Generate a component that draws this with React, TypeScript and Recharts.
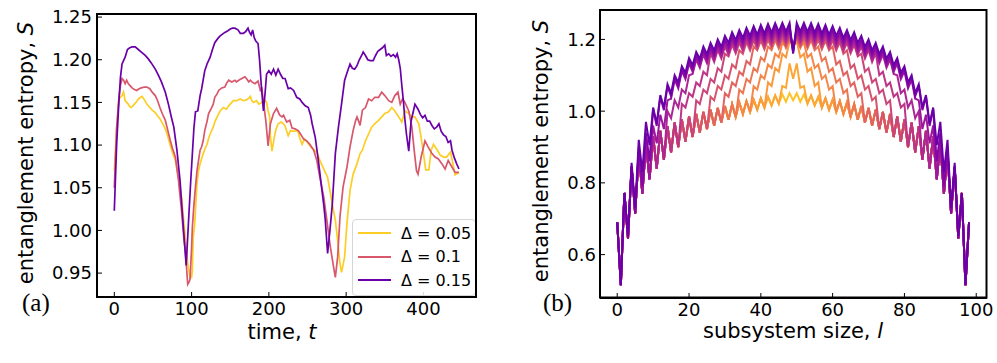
import React from 'react';
import { LineChart, Line, XAxis, YAxis, Legend } from 'recharts';

const FONT = '"DejaVu Sans", sans-serif';

// (a) entanglement entropy S against time t, one list of [t, S] per Delta
const delta005: [number, number][] = [
  [0, 1.07], [3, 1.12], [6, 1.154], [8, 1.156], [10, 1.158], [12, 1.162], [14, 1.152], [16, 1.15], [18, 1.148],
  [20, 1.145], [22, 1.144], [24, 1.146], [26, 1.148], [29, 1.151], [31, 1.154], [34, 1.156], [36, 1.157], [39, 1.153],
  [42, 1.148], [46, 1.144], [49, 1.141], [53, 1.138], [56, 1.134], [59, 1.131], [62, 1.126], [66, 1.119], [69, 1.111],
  [72, 1.101], [75, 1.092], [79, 1.082], [83, 1.062], [87, 1.039], [91, 1.0], [93, 0.98], [95, 0.961], [98, 0.945],
  [100, 0.945], [101, 0.953], [102, 0.99], [104, 1.008], [107, 1.055], [109, 1.07], [111, 1.078], [115, 1.09],
  [117, 1.095], [120, 1.101], [122, 1.108], [124, 1.113], [128, 1.121], [130, 1.127], [133, 1.133], [137, 1.14],
  [141, 1.144], [145, 1.142], [148, 1.146], [150, 1.148], [154, 1.152], [158, 1.152], [163, 1.154], [167, 1.152],
  [171, 1.153], [174, 1.155], [176, 1.157], [178, 1.152], [180, 1.15], [184, 1.152], [187, 1.148], [191, 1.15],
  [194, 1.154], [197, 1.15], [199, 1.14], [201, 1.133], [202, 1.11], [204, 1.093], [207, 1.109], [209, 1.118],
  [212, 1.125], [216, 1.127], [219, 1.125], [221, 1.122], [225, 1.111], [228, 1.117], [232, 1.116], [236, 1.117],
  [238, 1.115], [240, 1.108], [243, 1.101], [246, 1.107], [250, 1.103], [255, 1.097], [259, 1.094], [263, 1.09],
  [266, 1.082], [268, 1.078], [272, 1.07], [276, 1.062], [279, 1.047], [282, 1.031], [286, 1.012], [289, 0.988],
  [292, 0.961], [294, 0.951], [296, 0.96], [298, 0.969], [301, 1.008], [305, 1.047], [309, 1.066], [314, 1.078],
  [318, 1.09], [321, 1.094], [325, 1.105], [329, 1.113], [333, 1.121], [337, 1.125], [342, 1.129], [346, 1.133],
  [350, 1.137], [355, 1.139], [359, 1.144], [363, 1.14], [368, 1.133], [372, 1.127], [376, 1.14], [381, 1.137],
  [385, 1.133], [389, 1.133], [394, 1.125], [397, 1.109], [400, 1.09], [403, 1.071], [407, 1.071], [410, 1.094],
  [413, 1.101], [418, 1.094], [422, 1.088], [426, 1.086], [430, 1.086], [435, 1.092], [439, 1.074], [441, 1.065],
  [446, 1.068],
];

const delta01: [number, number][] = [
  [0, 1.05], [3, 1.12], [6, 1.156], [8, 1.17], [10, 1.178], [12, 1.176], [14, 1.172], [16, 1.176], [18, 1.172],
  [20, 1.17], [23, 1.167], [26, 1.165], [29, 1.164], [32, 1.166], [35, 1.167], [39, 1.168], [42, 1.168], [46, 1.166],
  [49, 1.162], [53, 1.158], [56, 1.152], [59, 1.144], [62, 1.137], [66, 1.129], [69, 1.118], [72, 1.107], [75, 1.097],
  [79, 1.086], [83, 1.059], [87, 1.023], [90, 0.99], [92, 0.975], [95, 0.937], [97, 0.94], [98, 0.943], [100, 0.98],
  [101, 1.004], [103, 1.03], [105, 1.051], [107, 1.07], [109, 1.082], [111, 1.094], [113, 1.098], [115, 1.105],
  [117, 1.117], [120, 1.128], [122, 1.137], [126, 1.144], [128, 1.148], [130, 1.156], [133, 1.16], [135, 1.164],
  [139, 1.167], [143, 1.168], [145, 1.172], [148, 1.176], [152, 1.174], [156, 1.176], [158, 1.174], [161, 1.176],
  [165, 1.178], [169, 1.18], [171, 1.178], [174, 1.174], [176, 1.176], [178, 1.174], [182, 1.172], [186, 1.175],
  [189, 1.164], [191, 1.166], [193, 1.15], [196, 1.129], [199, 1.099], [202, 1.125], [206, 1.137], [210, 1.143],
  [214, 1.135], [217, 1.133], [219, 1.135], [223, 1.127], [227, 1.129], [230, 1.12], [234, 1.119], [238, 1.117],
  [241, 1.113], [245, 1.107], [249, 1.105], [253, 1.101], [258, 1.094], [262, 1.082], [266, 1.062], [271, 1.039],
  [275, 1.012], [279, 0.984], [283, 0.961], [286, 0.945], [289, 0.969], [292, 1.016], [296, 1.051], [301, 1.074],
  [305, 1.098], [309, 1.117], [312, 1.128], [314, 1.133], [317, 1.126], [318, 1.123], [321, 1.141], [325, 1.144],
  [329, 1.154], [333, 1.152], [337, 1.156], [342, 1.156], [346, 1.162], [350, 1.158], [355, 1.152], [359, 1.15],
  [363, 1.158], [367, 1.162], [370, 1.148], [373, 1.154], [376, 1.15], [381, 1.14], [385, 1.121], [388, 1.094],
  [391, 1.07], [393, 1.066], [397, 1.086], [402, 1.105], [406, 1.098], [411, 1.09], [415, 1.086], [419, 1.084],
  [424, 1.078], [428, 1.072], [432, 1.082], [437, 1.074], [441, 1.068], [446, 1.068],
];

const delta015: [number, number][] = [
  [0, 1.023], [3, 1.1], [6, 1.152], [8, 1.18], [10, 1.195], [14, 1.203], [17, 1.212], [20, 1.214], [23, 1.215],
  [27, 1.215], [31, 1.212], [35, 1.209], [40, 1.205], [44, 1.201], [48, 1.196], [53, 1.189], [57, 1.182], [61, 1.174],
  [66, 1.162], [70, 1.148], [74, 1.132], [77, 1.121], [81, 1.094], [85, 1.059], [89, 1.008], [93, 0.959], [96, 1.01],
  [99, 1.06], [101, 1.09], [103, 1.12], [105, 1.139], [108, 1.14], [111, 1.158], [113, 1.166], [117, 1.187],
  [120, 1.195], [124, 1.203], [127, 1.212], [130, 1.22], [134, 1.225], [137, 1.228], [143, 1.232], [147, 1.234],
  [150, 1.236], [153, 1.237], [156, 1.237], [160, 1.235], [163, 1.231], [167, 1.231], [170, 1.233], [173, 1.237],
  [175, 1.232], [177, 1.229], [179, 1.235], [181, 1.226], [183, 1.222], [186, 1.219], [188, 1.199], [190, 1.172],
  [192, 1.15], [193, 1.14], [195, 1.16], [197, 1.183], [200, 1.187], [203, 1.183], [206, 1.189], [209, 1.182],
  [212, 1.189], [215, 1.183], [218, 1.178], [221, 1.178], [225, 1.166], [228, 1.167], [232, 1.164], [236, 1.156],
  [240, 1.154], [243, 1.15], [247, 1.146], [251, 1.144], [254, 1.135], [256, 1.125], [260, 1.109], [264, 1.082],
  [268, 1.052], [271, 1.03], [273, 1.012], [276, 0.973], [279, 1.0], [282, 1.03], [286, 1.09], [290, 1.121],
  [294, 1.148], [298, 1.176], [302, 1.187], [305, 1.195], [308, 1.19], [311, 1.189], [314, 1.193], [317, 1.2],
  [320, 1.205], [322, 1.209], [325, 1.205], [328, 1.2], [331, 1.199], [335, 1.199], [338, 1.205], [341, 1.21],
  [344, 1.212], [347, 1.214], [350, 1.217], [352, 1.205], [355, 1.207], [358, 1.204], [361, 1.206], [364, 1.203],
  [366, 1.207], [368, 1.2], [370, 1.19], [372, 1.17], [374, 1.152], [376, 1.13], [378, 1.113], [381, 1.093],
  [384, 1.128], [387, 1.14], [389, 1.148], [393, 1.142], [396, 1.136], [399, 1.132], [402, 1.135], [405, 1.128],
  [408, 1.128], [411, 1.123], [414, 1.119], [417, 1.121], [420, 1.125], [423, 1.116], [426, 1.112], [429, 1.11],
  [432, 1.103], [435, 1.105], [437, 1.094], [440, 1.085], [443, 1.078], [446, 1.072],
];

const deltaLabels = ['0.05', '0.1', '0.15'];
const deltaColors = ['#fcce25', '#d8576b', '#6a00a8'];
const timeTicks = [0, 100, 200, 300, 400];
const entropyTicksA = [0.95, 1.0, 1.05, 1.1, 1.15, 1.2, 1.25];

// (b) S against subsystem size l, l = 0..48 (the curves are mirror-symmetric about l = 49)
const upperBand = [
  0.69, 0.515, 0.772, 0.652, 0.856, 0.73, 0.92, 0.83, 0.97, 0.905, 1.01, 0.965, 1.045, 1.01, 1.075, 1.05, 1.1,
  1.08, 1.125, 1.107, 1.148, 1.128, 1.165, 1.146, 1.18, 1.159, 1.19, 1.169, 1.2, 1.179, 1.21, 1.19, 1.22, 1.198,
  1.226, 1.204, 1.232, 1.21, 1.237, 1.213, 1.24, 1.216, 1.243, 1.219, 1.245, 1.221, 1.246, 1.222, 1.246,
];
const lowerBand = [
  0.69, 0.515, 0.772, 0.645, 0.845, 0.715, 0.885, 0.77, 0.91, 0.81, 0.93, 0.84, 0.945, 0.865, 0.958, 0.885, 0.968,
  0.9, 0.977, 0.915, 0.985, 0.928, 0.992, 0.94, 0.998, 0.95, 1.004, 0.96, 1.009, 0.968, 1.014, 0.976, 1.019, 0.984,
  1.024, 0.992, 1.028, 0.998, 1.032, 1.004, 1.036, 1.01, 1.04, 1.016, 1.044, 1.021, 1.047, 1.026, 1.05,
];
// last l on the lower band for each curve, then the climb towards the upper band
const rampStarts = [49, 45, 41, 37, 33, 29, 25, 21, 17, 13, 9, 5, -1];
const rampValues = [
  [],
  [1.07, 1.065, 1.133],
  [1.08, 1.07, 1.12, 1.11, 1.16, 1.15, 1.195],
  [1.07, 1.06, 1.1, 1.09, 1.13, 1.12, 1.16, 1.15, 1.19, 1.18],
  [1.06, 1.05, 1.09, 1.08, 1.12, 1.11, 1.15, 1.14, 1.18, 1.17],
  [1.05, 1.04, 1.08, 1.07, 1.11, 1.1, 1.14, 1.13, 1.18, 1.17],
  [1.04, 1.03, 1.07, 1.06, 1.1, 1.09, 1.13, 1.12, 1.17, 1.16],
  [1.03, 1.02, 1.06, 1.05, 1.09, 1.08, 1.12, 1.11, 1.16],
  [1.02, 1.01, 1.05, 1.04, 1.08, 1.07, 1.11, 1.1],
  [1.0, 0.98, 1.03, 1.01, 1.06, 1.05, 1.1],
  [0.96, 0.91, 0.99, 0.95, 1.03],
  [0.9, 0.79, 0.94, 0.86],
  [],
];
// how far each curve sits under the upper band at the centre
const upperDrops = [0, 0, 0.055, 0.05, 0.046, 0.042, 0.038, 0.034, 0.03, 0.024, 0.018, 0.01, 0];
// value at the centre, l = 49
const centerValues = [1.03, 1.09, 1.18, 1.19, 1.19, 1.185, 1.18, 1.18, 1.175, 1.175, 1.17, 1.165, 1.16];
const curveColors = [
  '#fdc328', '#fca636', '#f99a3e', '#f48849', '#ec7853', '#e16462', '#d6556d',
  '#ca457a', '#bc3587', '#ac2694', '#9c179e', '#8707a6', '#6a00a8',
];
const sizeTicks = [0, 20, 40, 60, 80, 100];
const entropyTicksB = [0.6, 0.8, 1.0, 1.2];

const bandGap = upperBand[48] - lowerBand[48];

function entropyAt(k: number, h: number) {
  if (h === 49) return centerValues[k];
  if (h <= rampStarts[k]) return lowerBand[h];
  const i = h - rampStarts[k] - 1;
  if (i < rampValues[k].length) return rampValues[k][i];
  return upperBand[h] - (upperDrops[k] * (upperBand[h] - lowerBand[h])) / bandGap;
}

const profileRows = Array.from({ length: 99 }, (_, l) => {
  const h = Math.min(l, 98 - l);
  const row: Record<string, number> = { l };
  centerValues.forEach((_, k) => {
    row[`c${k}`] = entropyAt(k, h);
  });
  return row;
});

const axisLine = { stroke: '#000', strokeWidth: 2 };
const tickLine = { stroke: '#000', strokeWidth: 1 };
const tickStyle = { fill: '#000', fontSize: 18, fontFamily: FONT };

function YTitle({ px, py }: { px: number; py: number }) {
  return (
    <text x={px} y={py} transform={`rotate(-90 ${px} ${py})`} textAnchor="middle" fontSize={21} fontFamily={FONT} fill="#000">
      entanglement entropy, <tspan fontStyle="italic">S</tspan>
    </text>
  );
}

function XTitle({ px, py, text, v }: { px: number; py: number; text: string; v: string }) {
  return (
    <text x={px} y={py} textAnchor="middle" fontSize={21} fontFamily={FONT} fill="#000">
      {text} <tspan fontStyle="italic">{v}</tspan>
    </text>
  );
}

function DeltaLegend() {
  return (
    <div
      style={{
        width: 122,
        height: 75,
        border: '1px solid #d6d6d6',
        borderRadius: 4,
        background: 'rgba(255,255,255,0.85)',
        position: 'relative',
        fontFamily: FONT,
        fontSize: 16,
        color: '#000',
      }}
    >
      {deltaLabels.map((d, i) => (
        <div key={d} style={{ position: 'absolute', left: 0, top: 3 + i * 23.5, height: 20, display: 'flex', alignItems: 'center' }}>
          <svg width={48} height={20}>
            <line x1={5} x2={38} y1={10} y2={10} stroke={deltaColors[i]} strokeWidth={2} />
          </svg>
          <span style={{ whiteSpace: 'pre' }}>Δ = {d}</span>
        </div>
      ))}
    </div>
  );
}

export default function App() {
  return (
    <div style={{ position: 'absolute', left: 0, top: 0, width: 997, height: 363, background: '#fff' }}>
      <div style={{ position: 'absolute', left: 0, top: 0 }}>
        <LineChart width={490} height={363} margin={{ top: 14, right: 14, bottom: 0, left: 0 }}>
          <XAxis
            xAxisId="b"
            dataKey="t"
            type="number"
            domain={[-22.4, 468]}
            ticks={timeTicks}
            interval={0}
            height={66}
            tickSize={-5}
            tickMargin={10}
            axisLine={axisLine}
            tickLine={tickLine}
            tick={tickStyle}
            allowDataOverflow
            label={<XTitle px={282} py={339} text="time," v="t" />}
          />
          <YAxis
            yAxisId="l"
            type="number"
            domain={[0.922, 1.2536]}
            ticks={entropyTicksA}
            interval={0}
            width={97}
            tickSize={-5}
            tickMargin={10}
            axisLine={axisLine}
            tickLine={tickLine}
            tick={tickStyle}
            tickFormatter={(v: number) => v.toFixed(2)}
            allowDataOverflow
            label={<YTitle px={33} py={153} />}
          />
          {[delta005, delta01, delta015].map((pts, i) => (
            <Line
              key={deltaLabels[i]}
              xAxisId="b"
              yAxisId="l"
              data={pts.map(([t, s]) => ({ t, s }))}
              dataKey="s"
              name={`Δ = ${deltaLabels[i]}`}
              type="linear"
              stroke={deltaColors[i]}
              strokeWidth={1.7}
              dot={false}
              isAnimationActive={false}
            />
          ))}
          <Legend
            layout="vertical"
            align="center"
            verticalAlign="middle"
            wrapperStyle={{ left: 352, top: 219, width: 124, height: 77 }}
            content={() => <DeltaLegend />}
          />
        </LineChart>
      </div>

      <div style={{ position: 'absolute', left: 500, top: 0 }}>
        <LineChart width={497} height={363} data={profileRows} margin={{ top: 10, right: 10, bottom: 0, left: 0 }}>
          <XAxis
            xAxisId="b"
            dataKey="l"
            type="number"
            domain={[-4.8, 103]}
            ticks={sizeTicks}
            interval={0}
            height={65}
            tickSize={-5}
            tickMargin={10}
            axisLine={axisLine}
            tickLine={tickLine}
            tick={tickStyle}
            allowDataOverflow
            label={<XTitle px={293} py={338} text="subsystem size," v="l" />}
          />
          <YAxis
            yAxisId="l"
            type="number"
            domain={[0.479, 1.282]}
            ticks={entropyTicksB}
            interval={0}
            width={100}
            tickSize={-5}
            tickMargin={9}
            axisLine={axisLine}
            tickLine={tickLine}
            tick={tickStyle}
            tickFormatter={(v: number) => v.toFixed(1)}
            allowDataOverflow
            label={<YTitle px={48} py={151} />}
          />
          {curveColors.map((c, k) => (
            <Line
              key={k}
              xAxisId="b"
              yAxisId="l"
              dataKey={`c${k}`}
              type="linear"
              stroke={c}
              strokeWidth={2}
              dot={false}
              isAnimationActive={false}
            />
          ))}
        </LineChart>
      </div>

      <svg width={997} height={363} style={{ position: 'absolute', left: 0, top: 0, pointerEvents: 'none' }}>
        {/* plot frames (top and right spines) */}
        <rect x={97} y={14} width={379} height={283} fill="none" stroke="#000" strokeWidth={2} />
        <rect x={600} y={10} width={386.5} height={287.5} fill="none" stroke="#000" strokeWidth={2} />
        <text x={22} y={311} fontSize={25} fontFamily='"Liberation Serif", serif' fill="#000">(a)</text>
        <text x={543} y={311} fontSize={25} fontFamily='"Liberation Serif", serif' fill="#000">(b)</text>
      </svg>
    </div>
  );
}
